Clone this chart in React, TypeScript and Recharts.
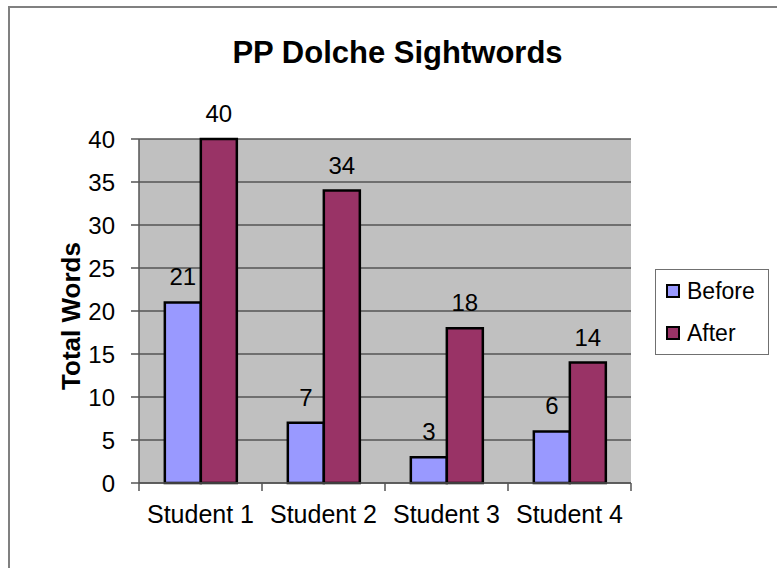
import React from 'react'
import {
  BarChart,
  Bar,
  XAxis,
  YAxis,
  CartesianGrid,
  Legend,
  LabelList,
  Label
} from 'recharts'

const STUDENTS = ['Student 1', 'Student 2', 'Student 3', 'Student 4']
const BEFORE = [21, 7, 3, 6]
const AFTER = [40, 34, 18, 14]
const Y_TICKS = [0, 5, 10, 15, 20, 25, 30, 35, 40]
const SERIES = ['Before', 'After']

const FONT = '"Liberation Sans", Arial, sans-serif'
const BEFORE_COLOR = '#9999FF'
const AFTER_COLOR = '#993366'

const CHART_W = 767
const CHART_H = 550
const Y_W = 80
const MARGIN = { top: 131, right: 146, bottom: 35, left: 49 }
const BAND = (CHART_W - MARGIN.left - MARGIN.right - Y_W) / STUDENTS.length

const data = STUDENTS.map((name, i) => ({
  name,
  Before: BEFORE[i],
  After: AFTER[i]
}))

function XTick(props: any) {
  const { x, y, payload, index } = props
  const axisY = y - 22
  const last = index === STUDENTS.length - 1
  return (
    <g>
      <line x1={x - BAND / 2} x2={x - BAND / 2} y1={axisY} y2={axisY + 8} stroke="#555" strokeWidth={1.5} />
      {last && (
        <line x1={x + BAND / 2} x2={x + BAND / 2} y1={axisY} y2={axisY + 8} stroke="#555" strokeWidth={1.5} />
      )}
      <text x={x} y={y} dy="0.71em" textAnchor="middle" fontSize={25} fontFamily={FONT} fill="#000">
        {payload.value}
      </text>
    </g>
  )
}

function LegendBox(props: any) {
  const items = [...(props.payload || [])].sort(
    (a: any, b: any) => SERIES.indexOf(a.value) - SERIES.indexOf(b.value)
  )
  return (
    <div
      style={{
        border: '1.5px solid #707070',
        boxSizing: 'border-box',
        width: 114,
        height: 86,
        background: '#fff',
        fontFamily: FONT,
        fontSize: 23,
        lineHeight: '42px',
        paddingLeft: 10,
        textAlign: 'left'
      }}
    >
      {items.map((p: any) => (
        <div key={p.value} style={{ display: 'flex', alignItems: 'center' }}>
          <span
            style={{
              display: 'inline-block',
              width: 10,
              height: 10,
              border: '2px solid #000',
              background: p.color,
              marginRight: 7
            }}
          />
          <span>{p.value}</span>
        </div>
      ))}
    </div>
  )
}

export default function App() {
  return (
    <div
      style={{
        position: 'absolute',
        left: 8,
        top: 6,
        width: 769,
        height: 562,
        borderLeft: '2px solid #808080',
        borderTop: '2px solid #808080',
        boxSizing: 'border-box',
        overflow: 'hidden',
        background: '#fff'
      }}
    >
      <div
        style={{
          position: 'absolute',
          left: 187.5,
          width: 400,
          top: 29,
          textAlign: 'center',
          fontFamily: FONT,
          fontWeight: 'bold',
          fontSize: 31,
          lineHeight: '31px',
          zIndex: 2
        }}
      >
        PP Dolche Sightwords
      </div>
      <BarChart
        width={CHART_W}
        height={CHART_H}
        data={data}
        margin={MARGIN}
        barCategoryGap="21%"
        barGap={0}
      >
        <CartesianGrid vertical={false} fill="#C0C0C0" stroke="#555" strokeWidth={1.5} />
        <XAxis
          dataKey="name"
          height={40}
          tickSize={0}
          tickMargin={22}
          tick={<XTick />}
          axisLine={{ stroke: '#555', strokeWidth: 1.5 }}
          tickLine={false}
          interval={0}
        />
        <YAxis
          width={Y_W}
          domain={[0, 40]}
          ticks={Y_TICKS}
          interval={0}
          tickSize={8}
          tickMargin={16}
          axisLine={{ stroke: '#555', strokeWidth: 1.5 }}
          tickLine={{ stroke: '#555', strokeWidth: 1.5 }}
          tick={{ fontSize: 24, fontFamily: FONT, fill: '#000' }}
        >
          <Label
            content={(p: any) => {
              const vb = p.viewBox || {}
              const cx = vb.x + 12
              const cy = vb.y + vb.height / 2 + 5
              return (
                <text
                  x={cx}
                  y={cy}
                  transform={`rotate(-90 ${cx} ${cy})`}
                  textAnchor="middle"
                  dominantBaseline="central"
                  fontSize={26}
                  fontWeight="bold"
                  fontFamily={FONT}
                  fill="#000"
                >
                  Total Words
                </text>
              )
            }}
          />
        </YAxis>
        <YAxis
          yAxisId="right"
          orientation="right"
          width={0}
          tick={false}
          tickLine={false}
          axisLine={{ stroke: '#808080', strokeWidth: 1.5 }}
        />
        <Legend
          layout="horizontal"
          align="center"
          verticalAlign="middle"
          content={<LegendBox />}
          wrapperStyle={{ position: 'absolute', left: 645, top: 261, width: 114, height: 86 }}
        />
        <Bar dataKey="Before" fill={BEFORE_COLOR} stroke="#000" strokeWidth={2.5} isAnimationActive={false}>
          <LabelList dataKey="Before" position="top" offset={17} fontSize={24} fontFamily={FONT} fill="#000" />
        </Bar>
        <Bar dataKey="After" fill={AFTER_COLOR} stroke="#000" strokeWidth={2.5} isAnimationActive={false}>
          <LabelList dataKey="After" position="top" offset={17} fontSize={24} fontFamily={FONT} fill="#000" />
        </Bar>
      </BarChart>
    </div>
  )
}
